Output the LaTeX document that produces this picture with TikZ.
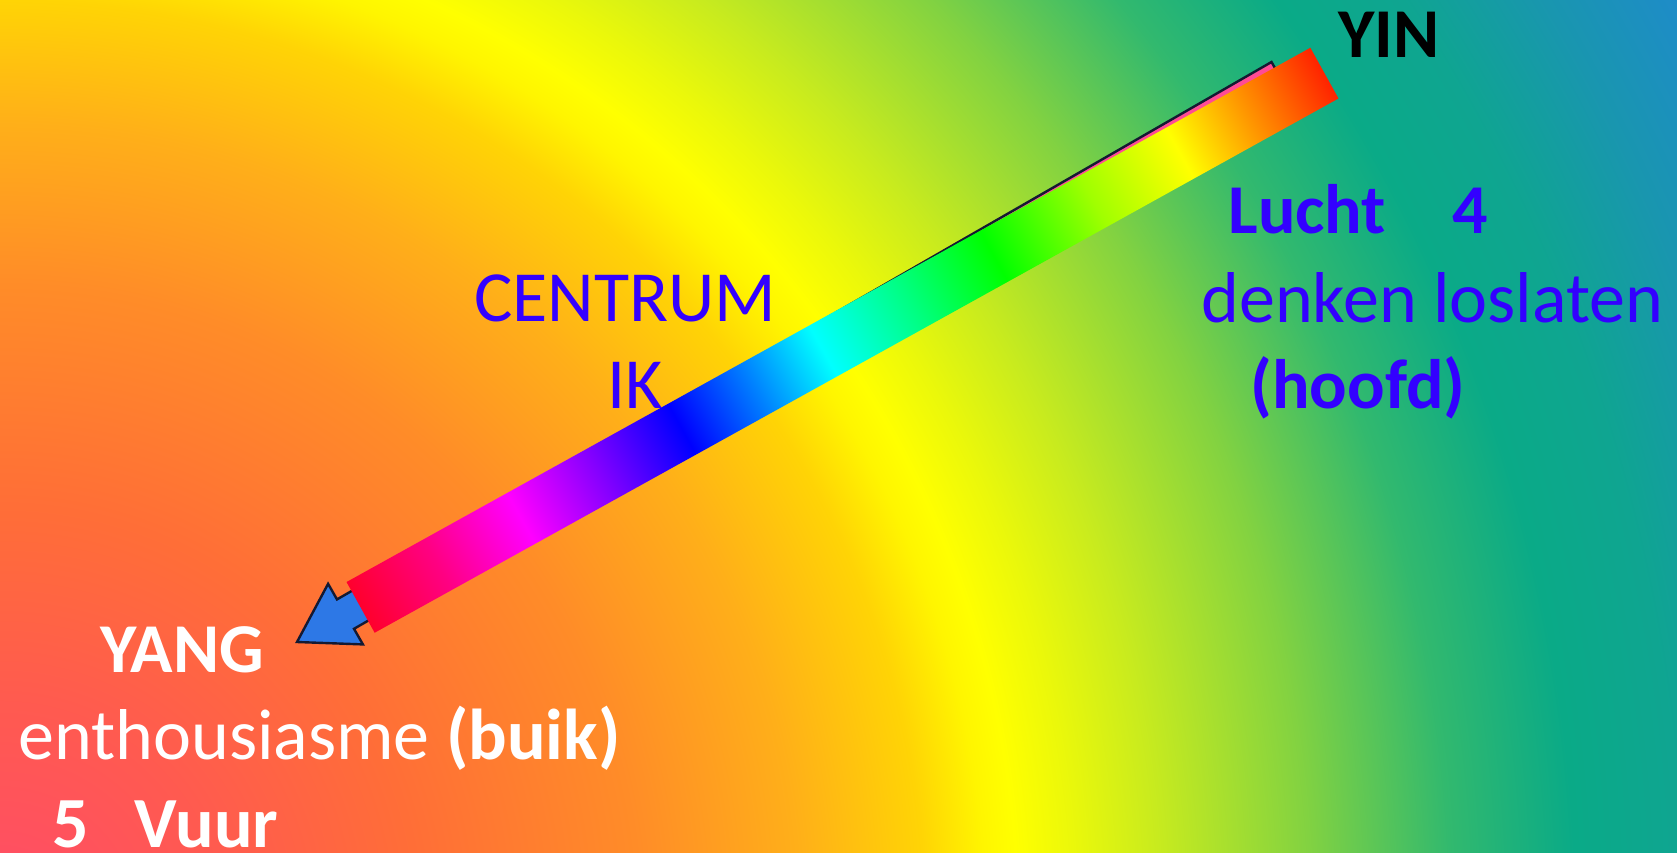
\documentclass[tikz,border=0pt]{standalone}
\usepackage{fontspec}
\setmainfont{Carlito}
% background colours
\definecolor{bga}{RGB}{255,75,105}
\definecolor{bgb}{RGB}{255,90,80}
\definecolor{bgc}{RGB}{255,110,55}
\definecolor{bgd}{RGB}{255,140,40}
\definecolor{bge}{RGB}{255,175,25}
\definecolor{bgf}{RGB}{255,212,5}
\definecolor{bgg}{RGB}{255,245,0}
\definecolor{bgh}{RGB}{255,255,0}
\definecolor{bgp}{RGB}{235,248,10}
\definecolor{bgi}{RGB}{200,235,30}
\definecolor{bgj}{RGB}{130,210,65}
\definecolor{bgk}{RGB}{50,185,110}
\definecolor{bgl}{RGB}{10,170,135}
\definecolor{bgm}{RGB}{15,165,145}
\definecolor{bgn}{RGB}{25,150,175}
\definecolor{bgo}{RGB}{30,140,200}
% radius 1950 px <-> 25bp  (bp = px/78)
\pgfdeclareradialshading{bgshade}{\pgfpoint{0bp}{0bp}}{%
color(0bp)=(bga); color(2.82bp)=(bgb); color(5.38bp)=(bgc); color(8.21bp)=(bgd);
color(10.26bp)=(bge); color(11.86bp)=(bgf); color(12.63bp)=(bgg); color(13.05bp)=(bgh);
color(13.78bp)=(bgp); color(14.87bp)=(bgi); color(16.8bp)=(bgj); color(18.6bp)=(bgk);
color(20.2bp)=(bgl); color(21.54bp)=(bgm); color(23.08bp)=(bgn); color(24.55bp)=(bgo);
color(50bp)=(bgo)}
% rainbow colours
\definecolor{rba}{RGB}{255,0,45}
\definecolor{rbb}{RGB}{255,0,130}
\definecolor{rbc}{RGB}{255,0,255}
\definecolor{rbd}{RGB}{130,0,255}
\definecolor{rbe}{RGB}{0,0,255}
\definecolor{rbf}{RGB}{0,130,255}
\definecolor{rbg}{RGB}{0,255,255}
\definecolor{rbh}{RGB}{0,255,130}
\definecolor{rbi}{RGB}{0,255,0}
\definecolor{rbj}{RGB}{160,255,0}
\definecolor{rbk}{RGB}{255,255,0}
\definecolor{rbl}{RGB}{255,150,0}
\definecolor{rbm}{RGB}{255,35,0}
\pgfdeclarehorizontalshading{rainbow}{100bp}{%
color(0bp)=(rba); color(25bp)=(rba); color(29bp)=(rbb); color(33.33bp)=(rbc);
color(37.5bp)=(rbd); color(41.67bp)=(rbe); color(45.5bp)=(rbf); color(49bp)=(rbg);
color(53.5bp)=(rbh); color(57.85bp)=(rbi); color(63bp)=(rbj); color(67.5bp)=(rbk);
color(71bp)=(rbl); color(75bp)=(rbm); color(100bp)=(rbm)}
\definecolor{txtblue}{RGB}{51,0,255}
\definecolor{arrowblue}{RGB}{45,120,230}
\definecolor{arrowpink}{RGB}{255,75,150}
\definecolor{arrowline}{RGB}{20,25,50}
\tikzset{
  lbl/.style={anchor=base west, inner sep=0pt, font=\fontsize{35}{42}\selectfont},
  biglbl/.style={lbl, font=\fontsize{36}{43}\selectfont},
  bluelbl/.style={text=txtblue},
  whitelbl/.style={text=white},
}
\begin{document}
\begin{tikzpicture}[x=0.5pt,y=-0.5pt]
\useasboundingbox (0,0) rectangle (1677,852);
% background
\begin{scope}
\clip (0,0) rectangle (1677,852);
\shade[shading=bgshade] (0,925) circle (1950);
\end{scope}
% underlying arrow
\coordinate (T) at (297,642);
\coordinate (B1) at (328.1,583.8);
\coordinate (N1) at (337.0,599.4);
\coordinate (E1) at (1271.5,62.0);
\coordinate (E2) at (1288.5,91.4);
\coordinate (N2) at (354.0,628.8);
\coordinate (B2) at (362.9,644.4);
\coordinate (P1) at (943.8,250.4);
\coordinate (P2) at (960.8,279.9);
\fill[arrowblue] (T) -- (B1) -- (N1) -- (E1) -- (E2) -- (N2) -- (B2) -- cycle;
\fill[arrowpink] (P1) -- (E1) -- (E2) -- (P2) -- cycle;
\draw[arrowline, line width=1.2pt, line join=miter] (T) -- (B1) -- (N1) -- (E1) -- (E2) -- (N2) -- (B2) -- cycle;
% rainbow bar
\begin{scope}[transform canvas={shift={(842.5,340.25)}, rotate=29}]
\shade[shading=rainbow] (-551,-29) rectangle (551,29);
\end{scope}
% texts
\node[lbl, font=\fontsize{35}{42}\selectfont\bfseries, text=black] (yin) at (1338,57) {YIN};
\node[lbl, bluelbl, font=\fontsize{35}{42}\selectfont\bfseries] (lucht) at (1228,233) {Lucht\hspace*{33pt}4};
\node[biglbl, bluelbl] (denken) at (1201,322) {denken loslaten};
\node[lbl, bluelbl, font=\fontsize{35}{42}\selectfont\bfseries] (hoofd) at (1250,408) {(hoofd)};
\node[biglbl, bluelbl] (centrum) at (474,321) {CENTRUM};
\node[biglbl, bluelbl] (ik) at (607,408) {IK};
\node[lbl, whitelbl, font=\fontsize{35}{42}\selectfont\bfseries] (yang) at (100,672) {YANG};
\node[biglbl, whitelbl] (enth) at (18,759) {enthousiasme \textbf{(buik)}};
\node[biglbl, whitelbl, font=\fontsize{36}{43}\selectfont\bfseries] (vuur) at (52,847) {5\hspace*{23pt}Vuur};
\end{tikzpicture}
\end{document}
